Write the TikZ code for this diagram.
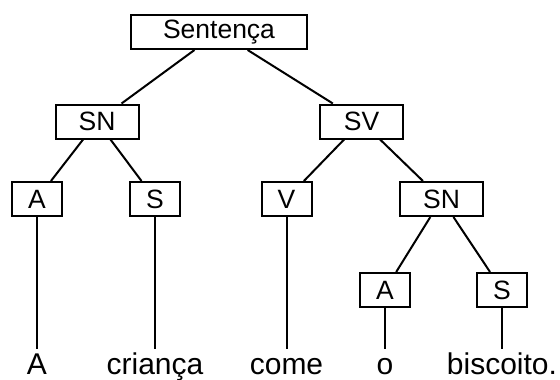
\documentclass[tikz,border=0pt]{standalone}
\usepackage{fontspec}
\setmainfont{Liberation Sans}
\begin{document}
\begin{tikzpicture}[x=1pt,y=-1pt,
  cat/.style={draw,line width=2pt,inner sep=0pt,minimum height=34pt,
    font=\fontsize{26.5}{26.5}\selectfont},
  wide/.style={cat,minimum width=83pt},
  narrow/.style={cat,minimum width=50pt},
  word/.style={anchor=base,inner xsep=0pt,inner ysep=5pt,text height=20pt,
    font=\fontsize{30}{30}\selectfont},
  edge/.style={line width=2pt}]
\useasboundingbox (0,0) rectangle (560,380);
% categories
\node[cat,minimum width=176pt] (sent) at (219,32) {Sentença};
\node[wide] (sn) at (97,121.5) {SN};
\node[wide] (sv) at (361.5,121.5) {SV};
\node[narrow] (a1) at (37,199) {A};
\node[narrow] (s1) at (155,199) {S};
\node[narrow] (v) at (286.5,199) {V};
\node[wide] (sn2) at (441.5,199) {SN};
\node[narrow] (a2) at (385,290) {A};
\node[narrow] (s2) at (502,290) {S};
% words
\node[word] (w1) at (37,374) {A};
\node[word] (w2) at (155,374) {criança};
\node[word] (w3) at (286.5,374) {come};
\node[word] (w4) at (385,374) {o};
\node[word] (w5) at (502,374) {biscoito.};
% branches
\draw[edge] (sent) -- (sn);
\draw[edge] (sent) -- (sv);
\draw[edge] (sn) -- (a1);
\draw[edge] (sn) -- (s1);
\draw[edge] (sv) -- (v);
\draw[edge] (sv) -- (sn2);
\draw[edge] (sn2) -- (a2);
\draw[edge] (sn2) -- (s2);
\draw[edge] (a1) -- (w1);
\draw[edge] (s1) -- (w2);
\draw[edge] (v) -- (w3);
\draw[edge] (a2) -- (w4);
\draw[edge] (s2) -- (w5);
\end{tikzpicture}
\end{document}
